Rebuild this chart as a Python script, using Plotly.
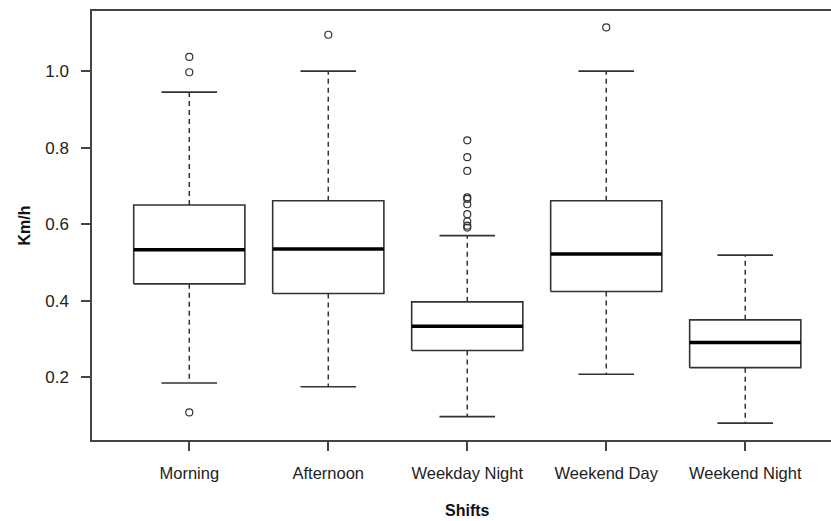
import plotly.graph_objects as go

categories = ["Morning", "Afternoon", "Weekday Night", "Weekend Day", "Weekend Night"]
lower_whisker = [0.185, 0.175, 0.097, 0.208, 0.080]
q1 = [0.444, 0.419, 0.270, 0.424, 0.225]
median = [0.533, 0.535, 0.333, 0.522, 0.291]
q3 = [0.650, 0.661, 0.397, 0.661, 0.350]
upper_whisker = [0.945, 1.000, 0.570, 1.000, 0.519]
outliers = [
    [0.108, 0.997, 1.037],
    [1.095],
    [0.591, 0.596, 0.607, 0.626, 0.652, 0.666, 0.670, 0.739, 0.775, 0.819],
    [1.114],
    [],
]
y_ticks = [0.2, 0.4, 0.6, 0.8, 1.0]

BOX_HALF = 0.4
CAP_HALF = 0.2
LINE = "#333333"

box_x, box_y = [], []
med_x, med_y = [], []
wh_x, wh_y = [], []
cap_x, cap_y = [], []
out_x, out_y = [], []
for i, name in enumerate(categories):
    c = i + 1
    box_x += [c - BOX_HALF, c + BOX_HALF, c + BOX_HALF, c - BOX_HALF, c - BOX_HALF, None]
    box_y += [q1[i], q1[i], q3[i], q3[i], q1[i], None]
    med_x += [c - BOX_HALF, c + BOX_HALF, None]
    med_y += [median[i], median[i], None]
    wh_x += [c, c, None, c, c, None]
    wh_y += [q3[i], upper_whisker[i], None, q1[i], lower_whisker[i], None]
    cap_x += [c - CAP_HALF, c + CAP_HALF, None, c - CAP_HALF, c + CAP_HALF, None]
    cap_y += [upper_whisker[i], upper_whisker[i], None, lower_whisker[i], lower_whisker[i], None]
    for v in outliers[i]:
        out_x.append(c)
        out_y.append(v)

fig = go.Figure()
fig.add_trace(go.Scatter(x=wh_x, y=wh_y, mode="lines",
                         line=dict(color=LINE, width=1.5, dash="5px,4px"), hoverinfo="skip"))
fig.add_trace(go.Scatter(x=cap_x, y=cap_y, mode="lines",
                         line=dict(color=LINE, width=1.6), hoverinfo="skip"))
fig.add_trace(go.Scatter(x=box_x, y=box_y, mode="lines",
                         line=dict(color=LINE, width=1.6), hoverinfo="skip"))
fig.add_trace(go.Scatter(x=med_x, y=med_y, mode="lines",
                         line=dict(color="#000000", width=3.5), hoverinfo="skip"))
fig.add_trace(go.Scatter(x=out_x, y=out_y, mode="markers",
                         marker=dict(symbol="circle-open", size=7, color=LINE,
                                     line=dict(width=1.2, color=LINE))))

fig.update_layout(
    width=831, height=521,
    margin=dict(l=92, r=0, t=11, b=81),
    paper_bgcolor="white", plot_bgcolor="white",
    showlegend=False,
    font=dict(family="Liberation Sans, Arial, sans-serif", color="#222222"),
    annotations=[
        dict(text="<b>Shifts</b>", x=3, xref="x", y=-0.1655, yref="paper",
             xanchor="center", yanchor="middle", showarrow=False,
             font=dict(size=16, color="#111111")),
        dict(text="<b>Km/h</b>", x=-0.0907, xref="paper", y=0.5, yref="paper",
             xanchor="center", yanchor="middle", textangle=-90, showarrow=False,
             font=dict(size=16, color="#111111")),
    ],
)
fig.update_xaxes(
    range=[0.3, 5.617], automargin=False,
    tickvals=[1, 2, 3, 4, 5], ticktext=categories,
    showgrid=False, zeroline=False,
    showline=True, linecolor="#444444", linewidth=1.5, mirror=True,
    ticks="outside", ticklen=9, tickcolor="#444444", tickwidth=1.5,
    tickfont=dict(size=16.5, color="#222222"),
    ticklabelstandoff=8,
)
fig.update_yaxes(
    range=[0.036, 1.157], automargin=False,
    tickvals=y_ticks, tickformat=".1f",
    showgrid=False, zeroline=False,
    showline=True, linecolor="#444444", linewidth=1.5, mirror=False,
    ticks="outside", ticklen=9, tickcolor="#444444", tickwidth=1.5,
    tickfont=dict(size=17, color="#222222"),
    ticklabelstandoff=9,
)

fig.write_html(
    "out.html",
    config={"displayModeBar": False},
    post_script="document.body.style.margin='0';document.body.style.overflow='hidden';",
)
